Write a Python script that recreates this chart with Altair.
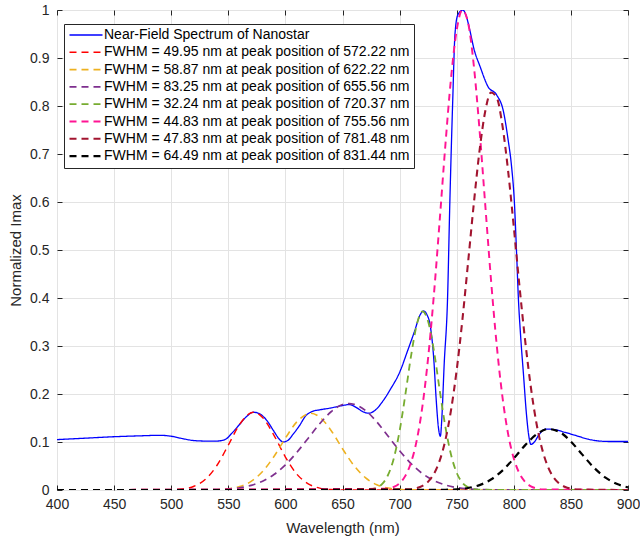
import altair as alt
import pandas as pd

# ---------------- data ----------------
labels = [
    "Near-Field Spectrum of Nanostar",
    "FWHM = 49.95 nm at peak position of 572.22 nm",
    "FWHM = 58.87 nm at peak position of 622.22 nm",
    "FWHM = 83.25 nm at peak position of 655.56 nm",
    "FWHM = 32.24 nm at peak position of 720.37 nm",
    "FWHM = 44.83 nm at peak position of 755.56 nm",
    "FWHM = 47.83 nm at peak position of 781.48 nm",
    "FWHM = 64.49 nm at peak position of 831.44 nm",
]
colors = ["#0000FF", "#FF0000", "#EDB120", "#7E2F8E", "#77AC30", "#FF1493", "#A2142F", "#000000"]

blue_wl = [400, 425, 450, 475, 490, 500, 510, 520, 530, 540, 547, 553, 560, 566, 572, 578, 584,
           590, 595, 598, 602, 607, 612, 618, 624, 630, 640, 650, 656, 662, 668, 673, 678, 685,
           692, 700, 707, 713, 718, 721, 724, 727, 730, 732, 734, 735.7, 737, 739, 742, 744,
           746.5, 748.5, 751, 755.5, 758, 761.5, 765, 770.5, 777.5, 785, 790.8, 795, 798, 800.5,
           802.5, 804, 806, 808.5, 811, 813, 815, 818, 822, 828, 835, 845, 855, 865, 875, 885, 900]
blue_v = [0.105, 0.108, 0.111, 0.113, 0.114, 0.112, 0.107, 0.103, 0.102, 0.102, 0.105, 0.118,
          0.137, 0.153, 0.162, 0.158, 0.144, 0.122, 0.105, 0.100, 0.103, 0.117, 0.133, 0.155,
          0.164, 0.167, 0.171, 0.176, 0.178, 0.172, 0.163, 0.160, 0.165, 0.184, 0.21, 0.245,
          0.29, 0.33, 0.365, 0.373, 0.365, 0.34, 0.27, 0.19, 0.13, 0.112, 0.15, 0.26, 0.40,
          0.60, 0.81, 0.95, 0.99, 1.0, 0.99, 0.958, 0.92, 0.882, 0.84, 0.823, 0.79, 0.73,
          0.675, 0.60, 0.49, 0.40, 0.32, 0.24, 0.16, 0.115, 0.095, 0.10, 0.115, 0.127, 0.126,
          0.120, 0.113, 0.106, 0.102, 0.101, 0.101]

red_wl = [400, 500, 510, 520, 530, 540, 550, 560, 570, 572, 580, 590, 600, 610, 620, 630, 640, 650, 900]
red_v = [0, 0.0005, 0.0022, 0.0078, 0.0224, 0.051, 0.0936, 0.137, 0.161, 0.162, 0.151, 0.114,
         0.0687, 0.0331, 0.0128, 0.004, 0.001, 0.0002, 0]

orange_wl = [400, 540, 550, 560, 570, 580, 590, 600, 610, 620, 622, 630, 640, 650, 660, 670, 680,
             690, 700, 710, 900]
orange_v = [0, 0.0007, 0.0025, 0.0072, 0.018, 0.0385, 0.0698, 0.108, 0.142, 0.159, 0.160, 0.152,
            0.124, 0.086, 0.051, 0.0257, 0.011, 0.004, 0.0013, 0.0003, 0]

purple_wl = [400, 540, 550, 560, 570, 580, 590, 600, 610, 620, 630, 640, 650, 656, 660, 670, 680,
             690, 700, 710, 720, 730, 740, 750, 760, 770, 780, 900]
purple_v = [0, 0.0009, 0.0021, 0.0046, 0.0096, 0.0183, 0.0322, 0.0523, 0.0784, 0.108, 0.138,
            0.163, 0.178, 0.180, 0.1786, 0.166, 0.142, 0.112, 0.0818, 0.0551, 0.0342, 0.0196,
            0.0104, 0.0051, 0.0023, 0.001, 0.0004, 0]

green_wl = [400, 670, 675, 680, 685, 690, 695, 700, 705, 710, 715, 720, 725, 730, 735, 740, 745,
            750, 755, 760, 765, 770, 900]
green_v = [0, 0.0004, 0.0015, 0.0048, 0.0132, 0.0318, 0.0667, 0.123, 0.198, 0.279, 0.344, 0.372,
           0.351, 0.291, 0.210, 0.133, 0.0738, 0.0358, 0.0152, 0.0056, 0.0018, 0.0005, 0]

pink_wl = [400, 690, 695, 700, 705, 710, 715, 720, 725, 730, 735, 740, 745, 750, 755, 760, 765,
           770, 775, 780, 785, 790, 795, 800, 805, 810, 815, 820, 825, 900]
pink_v = [0, 0.0027, 0.0064, 0.0142, 0.0294, 0.0571, 0.1034, 0.1748, 0.2758, 0.406, 0.558, 0.716,
          0.857, 0.958, 1.0, 0.973, 0.884, 0.750, 0.594, 0.439, 0.303, 0.195, 0.117, 0.0656,
          0.0344, 0.0168, 0.0077, 0.0032, 0.0013, 0]

darkred_wl = [400, 710, 715, 720, 725, 730, 735, 740, 745, 750, 755, 760, 765, 770, 775, 780, 785,
              790, 795, 800, 805, 810, 815, 820, 825, 830, 835, 840, 845, 850, 855, 900]
darkred_v = [0, 0.0017, 0.0039, 0.0085, 0.0174, 0.0334, 0.0605, 0.103, 0.166, 0.250, 0.355, 0.475,
             0.597, 0.707, 0.789, 0.828, 0.818, 0.760, 0.665, 0.548, 0.424, 0.310, 0.213, 0.137,
             0.0836, 0.0478, 0.0258, 0.0131, 0.0062, 0.0028, 0.0012, 0]

black_wl = [400, 730, 740, 750, 760, 770, 780, 790, 800, 810, 820, 830, 840, 850, 860, 870, 880,
            890, 900]
black_v = [0, 0.0001, 0.0005, 0.0015, 0.0042, 0.0102, 0.0218, 0.0404, 0.0657, 0.0935, 0.116,
           0.127, 0.121, 0.101, 0.0737, 0.0471, 0.0264, 0.0129, 0.0055]

x_ticks = [400, 450, 500, 550, 600, 650, 700, 750, 800, 850, 900]
y_ticks = [0, 0.1, 0.2, 0.3, 0.4, 0.5, 0.6, 0.7, 0.8, 0.9, 1.0]

series = [
    (blue_wl, blue_v), (red_wl, red_v), (orange_wl, orange_v), (purple_wl, purple_v),
    (green_wl, green_v), (pink_wl, pink_v), (darkred_wl, darkred_v), (black_wl, black_v),
]
dashes = [[1, 0]] + [[7, 5]] * 7
widths = [1.3] + [2.2] * 7

# ---------------- chart ----------------
FONT = "Liberation Sans"
TXT = "#262626"
xscale = alt.Scale(domain=[400, 900], nice=False, zero=False)
yscale = alt.Scale(domain=[0, 1], nice=False)

main_x_axis = alt.Axis(values=x_ticks, grid=True, ticks=False, tickSize=0, domain=False,
                       labelFlush=False, labelPadding=7, title="Wavelength (nm)", titlePadding=9)
main_y_axis = alt.Axis(values=y_ticks, grid=True, ticks=False, tickSize=0, domain=False,
                       labelFlush=False, labelPadding=8, format=".1~f",
                       title="Normalized Imax", titlePadding=6)


def tick_axis(orient, vals):
    return alt.Axis(orient=orient, values=vals, offset=-5, tickSize=5, ticks=True,
                    labels=False, grid=False, domain=False, title=None, tickColor=TXT)


layers = []
for i, (wl, v) in enumerate(series):
    df = pd.DataFrame({"wl": wl, "v": v, "series": labels[i]})
    if i == 0:
        xa, ya = main_x_axis, main_y_axis
    elif i == 1:
        xa, ya = tick_axis("bottom", x_ticks), tick_axis("left", y_ticks)
    elif i == 2:
        xa, ya = tick_axis("top", x_ticks), tick_axis("right", y_ticks)
    else:
        xa, ya = None, None
    layers.append(
        alt.Chart(df).mark_line(interpolate="monotone", clip=True).encode(
            x=alt.X("wl:Q", scale=xscale, axis=xa),
            y=alt.Y("v:Q", scale=yscale, axis=ya),
            color=alt.Color("series:N", scale=alt.Scale(domain=labels, range=colors), title=None),
            strokeDash=alt.StrokeDash("series:N", scale=alt.Scale(domain=labels, range=dashes), title=None),
            strokeWidth=alt.StrokeWidth("series:N", scale=alt.Scale(domain=labels, range=widths), title=None),
        )
    )

chart = alt.layer(*layers).resolve_axis(x="independent", y="independent").properties(
    width=571, height=480,
    autosize=alt.AutoSizeParams(type="none"),
    padding={"left": 57, "top": 10, "right": 12, "bottom": 47},
    background="white",
).configure_view(
    stroke=TXT, strokeWidth=1
).configure_axis(
    labelFont=FONT, labelFontSize=14, labelColor=TXT,
    titleFont=FONT, titleFontSize=15, titleColor=TXT, titleFontWeight="normal",
    gridColor="#e3e3e3", gridWidth=1,
).configure_legend(
    orient="none", legendX=7, legendY=14,
    fillColor="white", strokeColor=TXT, padding=4,
    labelFont=FONT, labelFontSize=14, labelColor="#000000", labelLimit=0,
    symbolType="M-1,0H5", symbolSize=121, labelOffset=22, rowPadding=3.3,
)

chart.save("out.html", embed_options={"renderer": "svg", "actions": False})
